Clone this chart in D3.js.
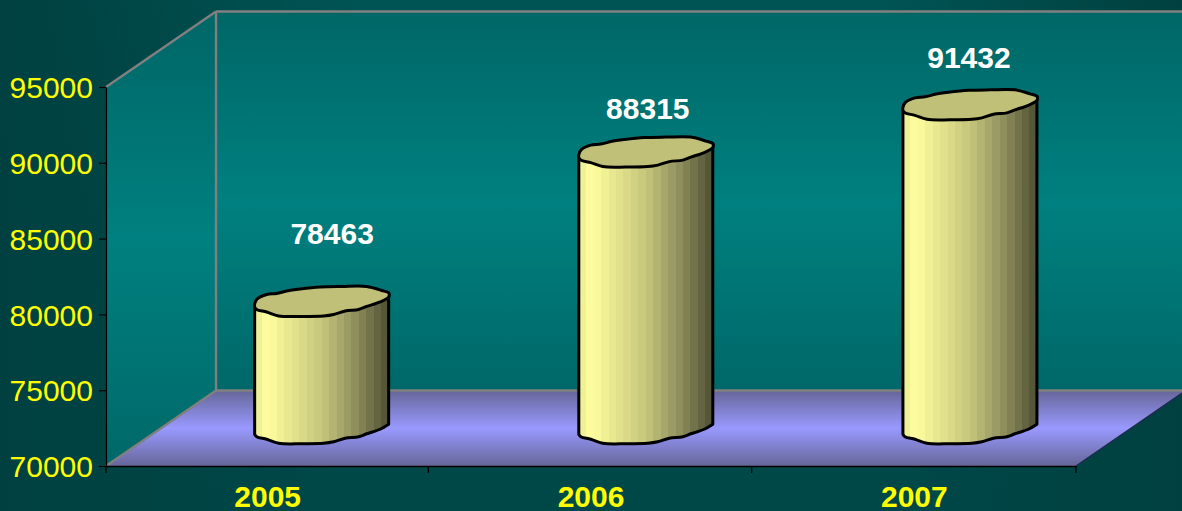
<!DOCTYPE html>
<html>
<head>
<meta charset="utf-8">
<script src="https://cdn.jsdelivr.net/npm/d3@7"></script>
<style>
  html, body { margin: 0; padding: 0; background: #004444; overflow: hidden; }
  text { font-family: "Liberation Sans", Arial, sans-serif; font-size: 30px; }
</style>
</head>
<body>
<div id="frame"></div>
<script>
//chart values
let years = ["2005", "2006", "2007"];
let values = [78463, 88315, 91432];
let yTicks = [70000, 75000, 80000, 85000, 90000, 95000];

//Dimensions
let width = 1182, height = 511;
let plot = { left: 106, right: 1076, top: 87, bottom: 466 };
//how far the back wall is pushed away from the front of the chart
let depth = { x: 110, y: 75.5 };

let x = d3.scaleBand().domain(years).range([plot.left, plot.right]);
let y = d3.scaleLinear().domain([70000, 95000]).range([plot.bottom, plot.top]);

let svg = d3.select('#frame')
    .append('svg')
    .attr('width', width)
    .attr('height', height)
    .style('display', 'block');

let defs = svg.append('defs');

function gradient(id, stops, vertical) {
    let g = defs.append('linearGradient')
        .attr('id', id)
        .attr('x1', 0).attr('y1', 0)
        .attr('x2', vertical ? 0 : 1).attr('y2', vertical ? 1 : 0);
    stops.forEach(s => g.append('stop').attr('offset', s[0]).attr('stop-color', s[1]));
}

gradient('wall', [[0, '#006666'], [0.5, '#008080'], [1, '#006868']], true);
gradient('floor', [[0, '#666699'], [0.5, '#9999ff'], [1, '#666699']], true);
gradient('bgTop', [[0, '#005454'], [0.45, '#004a4a'], [1, '#004848']], true);
gradient('bgSide', [[0, '#004040'], [0.3, 'rgba(0,64,64,0)'], [0.75, 'rgba(0,64,64,0)'], [1, '#004040']], false);

//background
svg.append('rect').attr('width', width).attr('height', height).attr('fill', 'url(#bgTop)');
svg.append('rect').attr('width', width).attr('height', height).attr('fill', 'url(#bgSide)');

let back = { left: plot.left + depth.x, right: plot.right + depth.x, top: plot.top - depth.y, bottom: plot.bottom - depth.y };
let poly = d3.line();

//side wall
svg.append('path')
    .attr('d', poly([[plot.left, plot.top], [back.left, back.top], [back.left, back.bottom], [plot.left, plot.bottom]]) + 'Z')
    .attr('fill', 'url(#wall)');
//back wall
svg.append('rect')
    .attr('x', back.left).attr('y', back.top)
    .attr('width', back.right - back.left).attr('height', back.bottom - back.top)
    .attr('fill', 'url(#wall)');
//floor
svg.append('path')
    .attr('d', poly([[plot.left, plot.bottom], [plot.right, plot.bottom], [back.right, back.bottom], [back.left, back.bottom]]) + 'Z')
    .attr('fill', 'url(#floor)');

//wall edges
let edges = [
    [[plot.left, plot.top], [back.left, back.top]],
    [[back.left, back.top], [back.right, back.top]],
    [[back.left, back.top], [back.left, back.bottom]],
    [[back.left, back.bottom], [back.right, back.bottom]],
    [[plot.left, plot.bottom], [back.left, back.bottom]]
];
svg.append('g').selectAll('path')
    .data(edges)
    .enter()
    .append('path')
    .attr('d', d => poly(d))
    .attr('fill', 'none')
    .attr('stroke', '#808080')
    .attr('stroke-width', 2.4);
svg.append('path')
    .attr('d', poly([[plot.right, plot.bottom], [back.right, back.bottom]]))
    .attr('stroke', '#1c2c50')
    .attr('stroke-width', 1.5);

//stepped shading round the cylinder side
let shade = d3.scaleLinear()
    .domain([0, 0.04, 0.1, 0.2, 0.5, 0.75, 1])
    .range(['#e8e890', '#f4f49a', '#ffffa0', '#efef94', '#c6c67c', '#8f8f5e', '#4f4f33']);
let strips = d3.range(18);
let sideFill = defs.append('linearGradient').attr('id', 'side');
strips.forEach(i => {
    let c = shade((i + 0.5) / strips.length);
    sideFill.append('stop').attr('offset', i / strips.length).attr('stop-color', c);
    sideFill.append('stop').attr('offset', (i + 1) / strips.length).attr('stop-color', c);
});

//the cylinder's rim is a lumpy ring, offsets from its centre
let rimBack = [[-67, 3], [-64.5, -2], [-55, -6.5], [-45, -7.5], [-35, -10], [-21.5, -12], [-1.5, -14], [20, -14.5], [45, -14.5], [60, -10.5], [67, -8]];
let rimFront = [[67, -4], [58.5, 1], [45, 5.5], [37, 8.5], [23.5, 10], [12, 13.5], [2, 15], [-20, 15.5], [-43, 15], [-55, 11], [-65, 8.5], [-67, 6]];
let place = (cx, cy, pts) => pts.map(p => [cx + p[0], cy + p[1]]);
let wavy = d3.line().curve(d3.curveCatmullRom.alpha(0.5));
let wavyRing = d3.line().curve(d3.curveCatmullRomClosed.alpha(0.5));

let baseY = plot.bottom - depth.y / 2;
let bars = svg.append('g').selectAll('g')
    .data(values)
    .enter()
    .append('g');

//centre of the top of each bar, the base sits on baseY
let barX = (d, i) => x(years[i]) + x.bandwidth() / 2 + depth.x / 2 - 1 + i * 0.8;
let barY = d => y(d) - depth.y / 2 + 1;

bars.append('path')
    .attr('d', (d, i) => {
        let cx = barX(d, i), top = barY(d);
        let bottom = wavy(place(cx, baseY, rimFront)).replace('M', 'L');
        return 'M' + (cx + 67) + ',' + (top - 8) + bottom + 'L' + (cx - 67) + ',' + (top + 5) + 'Z';
    })
    .attr('fill', 'url(#side)')
    .attr('stroke', '#000')
    .attr('stroke-width', 3)
    .attr('stroke-linejoin', 'round');

bars.append('path')
    .attr('d', (d, i) => wavyRing(place(barX(d, i), barY(d), rimBack.concat(rimFront))))
    .attr('fill', '#c0c078')
    .attr('stroke', '#000')
    .attr('stroke-width', 3)
    .attr('stroke-linejoin', 'round');

//value labels don't sit at the same spot over each bar
let labelShift = [[10.5, -57], [2, -33], [-1, -36]];
bars.append('text')
    .attr('x', (d, i) => barX(d, i) + labelShift[i][0])
    .attr('y', (d, i) => barY(d) + labelShift[i][1])
    .attr('text-anchor', 'middle')
    .attr('font-weight', 'bold')
    .attr('fill', '#fff')
    .text(d => d);

//y axis
let yAxis = svg.append('g')
    .attr('transform', 'translate(' + plot.left + ',0)')
    .call(d3.axisLeft(y).tickValues(yTicks).tickSize(7).tickSizeOuter(0).tickPadding(6).tickFormat(d3.format('d')));
yAxis.selectAll('line').attr('stroke', '#000').attr('stroke-width', 1.2);
yAxis.select('.domain').attr('stroke', '#000').attr('stroke-width', 1.2);
yAxis.selectAll('text')
    .attr('y', 1)
    .attr('fill', '#ffff00')
    .style('font-size', '30px')
    .style('font-family', '"Liberation Sans", Arial, sans-serif');

//x axis, tick marks fall between the categories
let xAxis = svg.append('g')
    .attr('transform', 'translate(0,' + plot.bottom + ')')
    .call(d3.axisBottom(x).tickSize(0).tickPadding(20));
xAxis.select('.domain').attr('stroke', '#000').attr('stroke-width', 1.6);
xAxis.selectAll('text')
    .attr('fill', '#ffff00')
    .attr('font-weight', 'bold')
    .style('font-size', '30px')
    .style('font-family', '"Liberation Sans", Arial, sans-serif');
xAxis.selectAll('line.sep')
    .data([plot.left].concat(years.map(c => x(c) + x.bandwidth())))
    .enter()
    .append('line')
    .attr('class', 'sep')
    .attr('x1', d => d > plot.left && d < plot.right ? d - 1 : d)
    .attr('x2', d => d > plot.left && d < plot.right ? d - 1 : d)
    .attr('y1', 0).attr('y2', 7)
    .attr('stroke', '#000')
    .attr('stroke-width', 1.2);
</script>
</body>
</html>
